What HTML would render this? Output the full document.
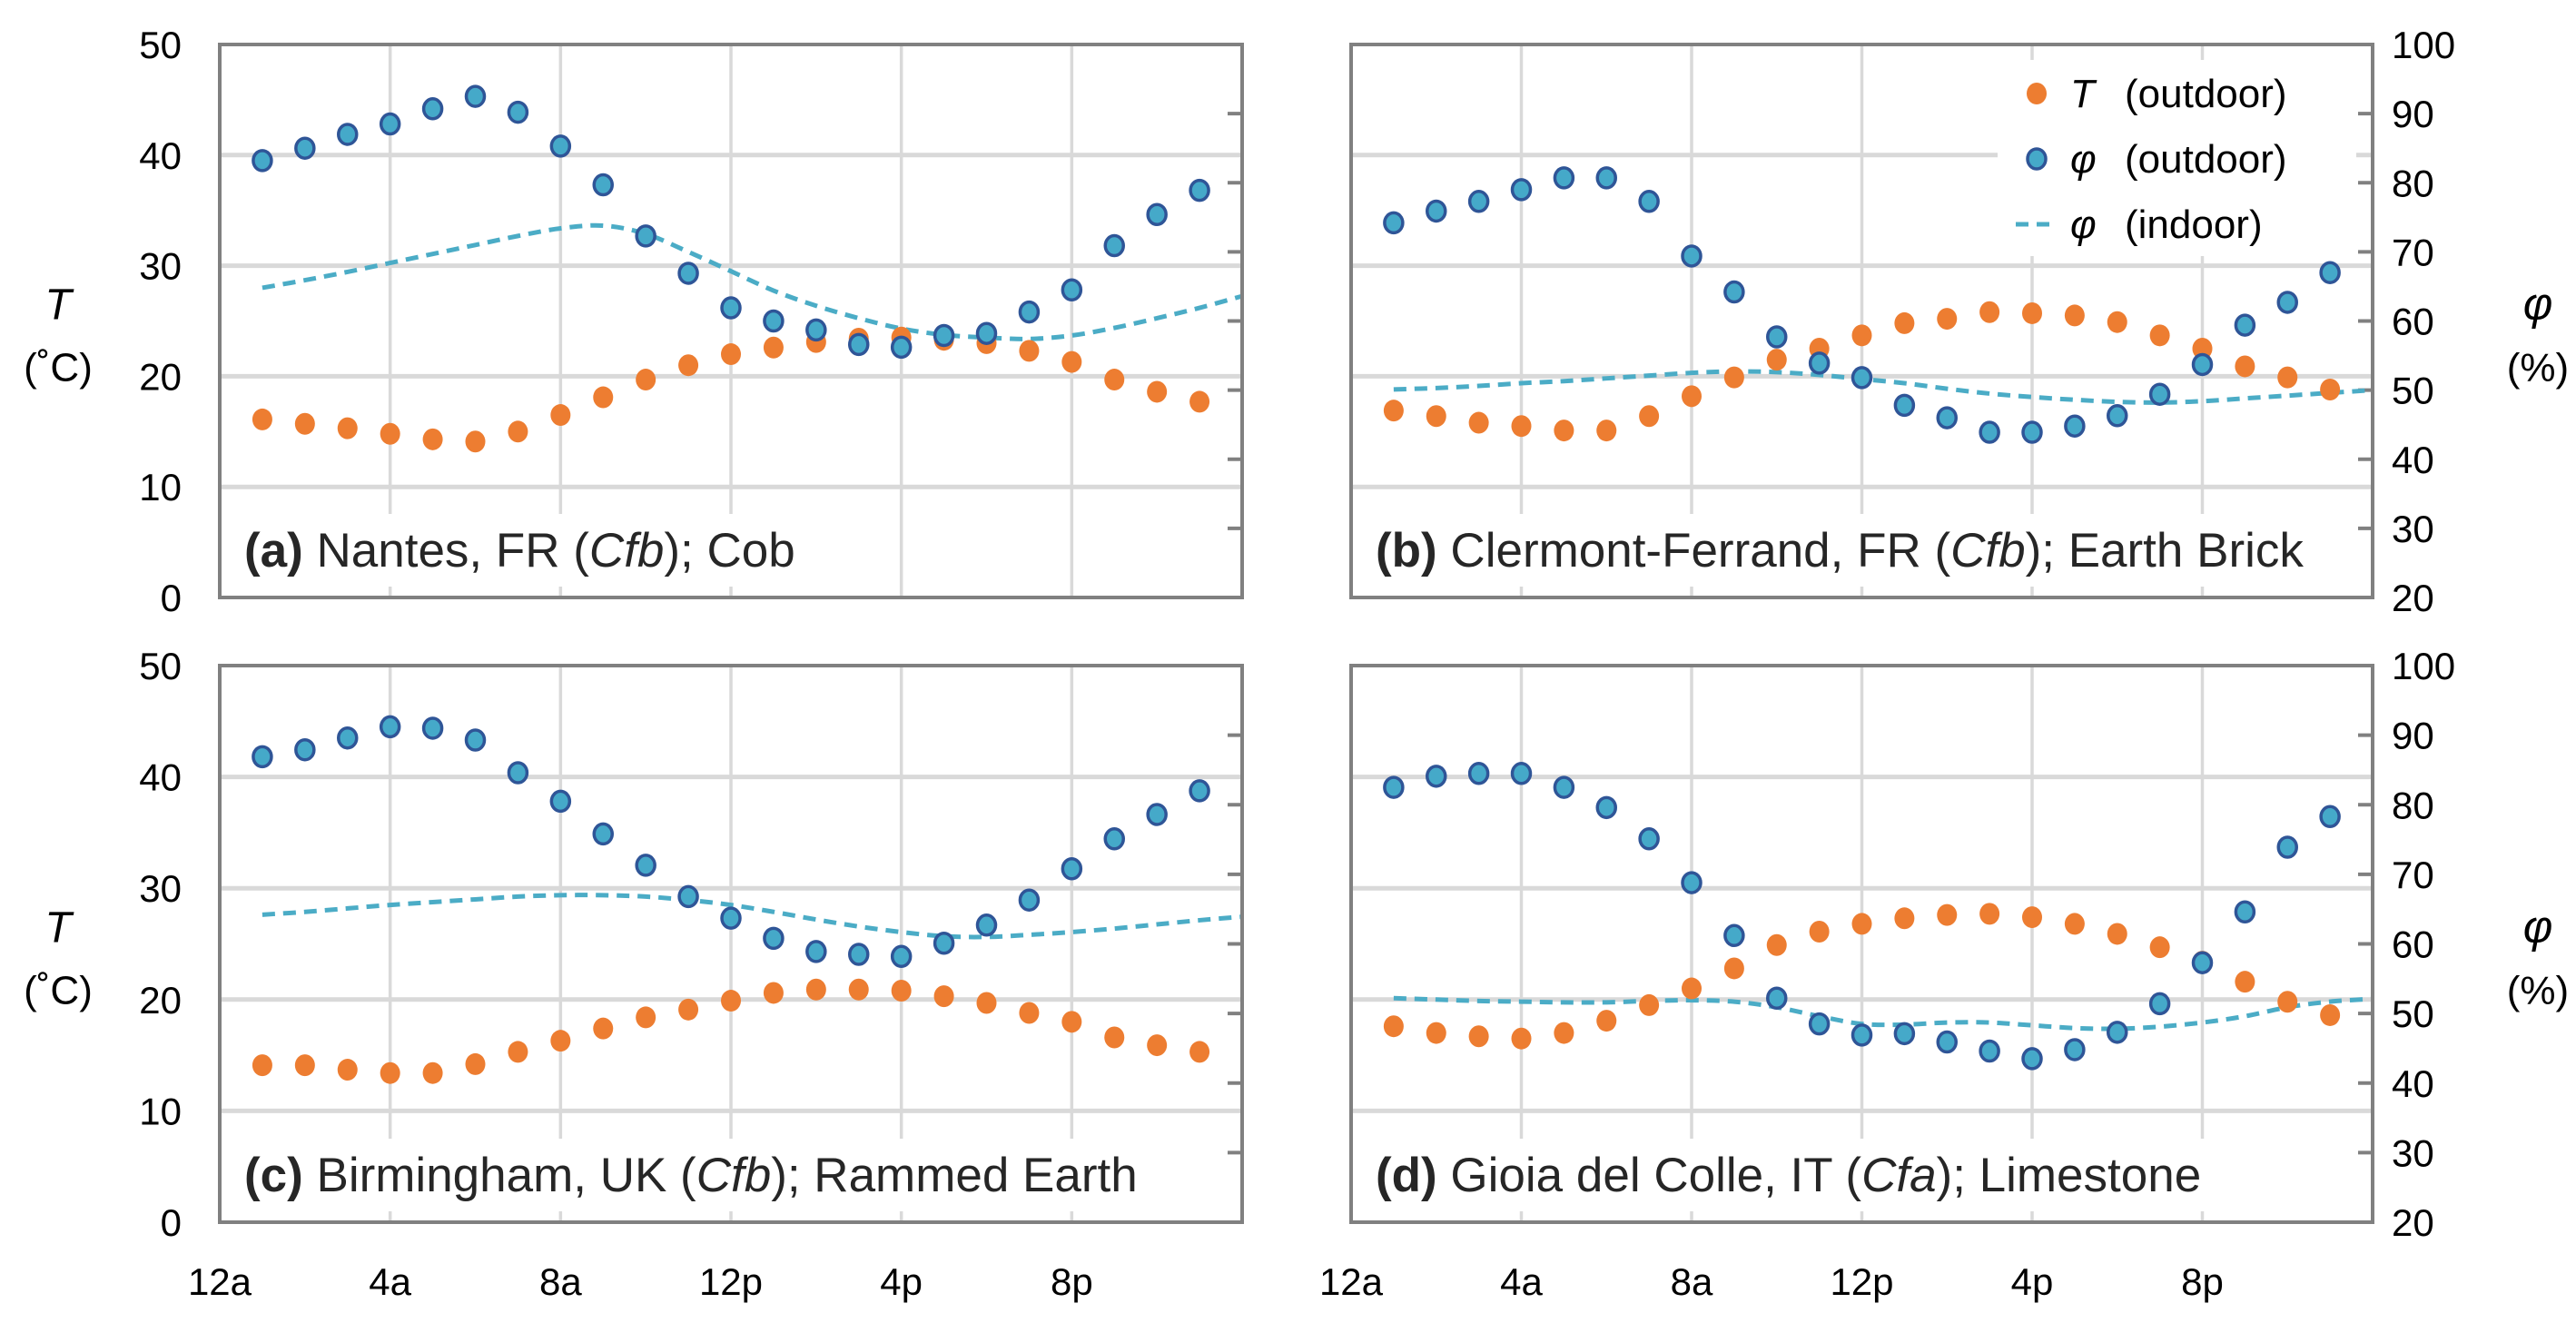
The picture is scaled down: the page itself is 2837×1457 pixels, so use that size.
<!DOCTYPE html>
<html><head><meta charset="utf-8">
<style>
html,body{margin:0;padding:0;background:#fff;}
svg{display:block;font-family:"Liberation Sans",sans-serif;}
</style></head>
<body>
<svg id="chart" width="2837" height="1457" viewBox="0 0 2837 1457" xmlns="http://www.w3.org/2000/svg"></svg>
<script>
const hours = [1,2,3,4,5,6,7,8,9,10,11,12,13,14,15,16,17,18,19,20,21,22,23];
const indoorHours = [1,2,3,4,5,6,7,8,9,10,11,12,13,14,15,16,17,18,19,20,21,22,23,24];
const xTickLabels = ["12a","4a","8a","12p","4p","8p"];
const xTickHours = [0,4,8,12,16,20];
const tTicks = [0,10,20,30,40,50];
const phiTicks = [20,30,40,50,60,70,80,90,100];

const tA = [16.1,15.7,15.3,14.8,14.3,14.1,15.0,16.5,18.1,19.7,21.0,22.0,22.6,23.1,23.4,23.5,23.3,23.0,22.3,21.3,19.7,18.6,17.7];
const phiA = [83.2,85.0,87.0,88.5,90.7,92.5,90.2,85.3,79.7,72.3,66.9,61.9,60.0,58.7,56.6,56.2,57.9,58.2,61.3,64.5,70.9,75.4,78.9];
const inA = [64.8,65.9,67.1,68.4,69.7,71.0,72.3,73.4,73.8,72.6,70.0,67.2,64.4,62.2,60.4,58.9,58.0,57.6,57.4,57.9,59.0,60.4,61.9,63.6];

const tB = [16.9,16.4,15.8,15.5,15.1,15.1,16.4,18.2,19.9,21.5,22.5,23.7,24.8,25.2,25.8,25.7,25.5,24.9,23.7,22.5,20.9,19.9,18.8];
const phiB = [74.2,75.9,77.3,79.0,80.7,80.7,77.3,69.4,64.2,57.7,53.9,51.8,47.8,46.0,43.9,43.9,44.8,46.3,49.4,53.7,59.4,62.7,67.0];
const inB = [50.1,50.3,50.6,51.0,51.3,51.7,52.1,52.5,52.7,52.6,52.2,51.6,51.0,50.2,49.5,49.0,48.6,48.3,48.2,48.4,48.8,49.2,49.6,50.0];

const tC = [14.1,14.1,13.7,13.4,13.4,14.2,15.3,16.3,17.4,18.4,19.1,19.9,20.6,20.9,20.9,20.8,20.3,19.7,18.8,18.0,16.6,15.9,15.3];
const phiC = [86.9,87.9,89.6,91.2,91.0,89.3,84.6,80.5,75.8,71.3,66.8,63.7,60.8,58.9,58.5,58.2,60.1,62.7,66.3,70.8,75.1,78.6,82.0];
const inC = [64.2,64.6,65.1,65.6,66.0,66.4,66.8,67.0,67.0,66.8,66.3,65.6,64.6,63.5,62.5,61.7,61.1,61.0,61.3,61.7,62.2,62.8,63.4,63.9];

const tD = [17.6,17.0,16.7,16.5,17.0,18.1,19.5,21.0,22.8,24.9,26.1,26.8,27.3,27.6,27.7,27.4,26.8,25.9,24.7,23.4,21.6,19.8,18.6];
const phiD = [82.5,84.1,84.5,84.5,82.5,79.6,75.1,68.8,61.2,52.2,48.5,46.9,47.1,45.9,44.6,43.5,44.8,47.3,51.4,57.3,64.6,73.9,78.3];
const inD = [52.2,52.0,51.8,51.7,51.6,51.6,51.8,51.9,51.7,50.9,49.6,48.5,48.4,48.7,48.7,48.3,47.9,47.8,48.1,48.7,49.6,50.9,51.7,52.1];

const NS = "http://www.w3.org/2000/svg";
const svg = document.getElementById("chart");
function mk(tag, attrs, parent, text){
  const e = document.createElementNS(NS, tag);
  for (const k in attrs) e.setAttribute(k, attrs[k]);
  if (text !== undefined) e.textContent = text;
  (parent||svg).appendChild(e);
  return e;
}
const ORANGE="#ed7d31", BLUEF="#45a9c9", BLUES="#2f5597", LINE="#4bacc6", GRID="#d9d9d9", AX="#808080";

const panels = [
  {id:"a", x0:242, x1:1368, y0:49, y1:658, t:tA, p:phiA, ind:inA, left:true, right:false, bottom:false, lab:["(a)"," Nantes, FR (","Cfb","); Cob"], bw:640},
  {id:"b", x0:1488, x1:2613, y0:49, y1:658, t:tB, p:phiB, ind:inB, left:false, right:true, bottom:false, lab:["(b)"," Clermont-Ferrand, FR (","Cfb","); Earth Brick"], bw:1085},
  {id:"c", x0:242, x1:1368, y0:733, y1:1346, t:tC, p:phiC, ind:inC, left:true, right:false, bottom:true, lab:["(c)"," Birmingham, UK (","Cfb","); Rammed Earth"], bw:1075},
  {id:"d", x0:1488, x1:2613, y0:733, y1:1346, t:tD, p:phiD, ind:inD, left:false, right:true, bottom:true, lab:["(d)"," Gioia del Colle, IT (","Cfa","); Limestone"], bw:960}
];

panels.forEach(P=>{
  const g = mk("g",{});
  
  
  const xs = h => P.x0 + (h/24)*(P.x1-P.x0);
  const yT = v => P.y1 - (v/50)*(P.y1-P.y0);
  const yP = v => P.y1 - ((v-20)/80)*(P.y1-P.y0);
  [10,20,30,40].forEach(v=>{
    const l = mk("line",{x1:P.x0,x2:P.x1,y1:yT(v),y2:yT(v),stroke:GRID,"stroke-width":5},g);
    
    
  });
  [4,8,12,16,20].forEach(h=>{
    const l = mk("line",{x1:xs(h),x2:xs(h),y1:P.y0,y2:P.y1,stroke:GRID,"stroke-width":3.5},g);
    
    
  });
  phiTicks.slice(1,-1).forEach(v=>{
    const l = mk("line",{x1:P.x1-16,x2:P.x1,y1:yP(v),y2:yP(v),stroke:AX,"stroke-width":4},g);
    
    
  });
  const ly = P.y1 - 34;
  const bg = mk("rect",{x:P.x0+20,y:ly-58,width:P.bw,height:80,fill:"#fff"},g);
  
  
  const tx = mk("text",{x:P.x0+27,y:ly,"font-size":53,fill:"#262626"},g);
  
  
  mk("tspan",{"font-weight":"bold"},tx,P.lab[0]);
  mk("tspan",{},tx,P.lab[1]);
  mk("tspan",{"font-style":"italic"},tx,P.lab[2]);
  mk("tspan",{},tx,P.lab[3]);
  const pts = indoorHours.map((h,i)=>[xs(h),yP(P.ind[i])]);
  let d = "M"+pts[0][0]+","+pts[0][1];
  for(let i=0;i<pts.length-1;i++){
    const p0=pts[Math.max(0,i-1)],p1=pts[i],p2=pts[i+1],p3=pts[Math.min(pts.length-1,i+2)];
    const c1=[p1[0]+(p2[0]-p0[0])/6,p1[1]+(p2[1]-p0[1])/6];
    const c2=[p2[0]-(p3[0]-p1[0])/6,p2[1]-(p3[1]-p1[1])/6];
    d+=" C"+c1[0]+","+c1[1]+" "+c2[0]+","+c2[1]+" "+p2[0]+","+p2[1];
  }
  const pl = mk("path",{d:d,fill:"none",stroke:LINE,"stroke-width":5,"stroke-dasharray":"14 9"},g);
  
  
  hours.forEach((h,i)=>{
    const c = mk("ellipse",{cx:xs(h),cy:yT(P.t[i]),rx:11,ry:12,fill:ORANGE},g);
    
    
  });
  hours.forEach((h,i)=>{
    const c = mk("ellipse",{cx:xs(h),cy:yP(P.p[i]),rx:10,ry:11,fill:BLUEF,stroke:BLUES,"stroke-width":3.5},g);
    
    
  });
  const fr = mk("rect",{x:P.x0,y:P.y0,width:P.x1-P.x0,height:P.y1-P.y0,fill:"none",stroke:AX,"stroke-width":4},g);
  
  
  const cy=(P.y0+P.y1)/2;
  if(P.left){
    tTicks.forEach(v=>{
      const t = mk("text",{x:200,y:yT(v)+15,"font-size":42,"text-anchor":"end",fill:"#000"},g,String(v));
      
      
    });
    const a = mk("text",{x:64,y:cy-2,"font-size":48,"font-style":"italic","text-anchor":"middle"},g,"T");
    
    
    const u = mk("text",{x:64,y:cy+66,"font-size":44,"text-anchor":"middle"},g,"(˚C)");
    
    
  }
  if(P.right){
    phiTicks.forEach(v=>{
      const t = mk("text",{x:2634,y:yP(v)+15,"font-size":42,"text-anchor":"start",fill:"#000"},g,String(v));
      
      
    });
    const a = mk("text",{x:2795,y:cy-2,"font-size":50,"font-style":"italic","text-anchor":"middle"},g,"φ");
    
    
    const u = mk("text",{x:2795,y:cy+66,"font-size":44,"text-anchor":"middle"},g,"(%)");
    
    
  }
  if(P.bottom){
    xTickHours.forEach((h,i)=>{
      const t = mk("text",{x:xs(h),y:1426,"font-size":42,"text-anchor":"middle"},g,xTickLabels[i]);
      
      
    });
  }
});

const lg = mk("g",{});


const lbg = mk("rect",{x:2200,y:66,width:395,height:216,fill:"#fff"},lg);


const e1 = mk("ellipse",{cx:2243,cy:103,rx:11,ry:12,fill:ORANGE},lg);


const t1 = mk("text",{x:2280,y:118,"font-size":44,"xml:space":"preserve"},lg);


mk("tspan",{"font-style":"italic"},t1,"T");
mk("tspan",{x:2340},t1,"(outdoor)");
const e2 = mk("ellipse",{cx:2243,cy:175,rx:10,ry:11,fill:BLUEF,stroke:BLUES,"stroke-width":3.5},lg);


const t2 = mk("text",{x:2280,y:190,"font-size":44},lg);


mk("tspan",{"font-style":"italic"},t2,"φ");
mk("tspan",{x:2340},t2,"(outdoor)");
const l3 = mk("line",{x1:2220,x2:2264,y1:247,y2:247,stroke:LINE,"stroke-width":5,"stroke-dasharray":"14 9"},lg);


const t3 = mk("text",{x:2280,y:262,"font-size":44},lg);


mk("tspan",{"font-style":"italic"},t3,"φ");
mk("tspan",{x:2340},t3,"(indoor)");
</script>
</body></html>
